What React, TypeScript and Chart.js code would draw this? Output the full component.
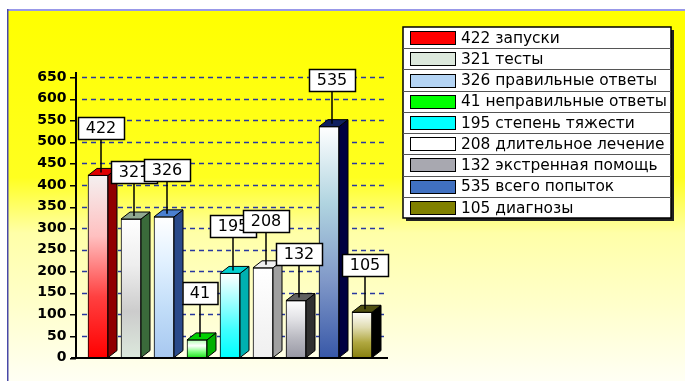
import React, { useEffect, useRef } from "react";
import { Chart, registerables } from "chart.js";

Chart.register(...registerables);

// ---- data ----
const categories = [
  "422 запуски",
  "321 тесты",
  "326 правильные ответы",
  "41 неправильные ответы",
  "195 степень тяжести",
  "208 длительное лечение",
  "132 экстренная помощь",
  "535 всего попыток",
  "105 диагнозы",
];
const values = [422, 321, 326, 41, 195, 208, 132, 535, 105];
const yMin = 0;
const yMax = 650;
const yStep = 50;

// ---- styles ----
const swatchColors = ["#ff0000", "#dce8dc", "#b4d4f4", "#00ff00", "#00ffff", "#ffffff", "#a8a8b0", "#4070c0", "#808000"];
const frontStops: string[][] = [
  ["#f4f0f0", "#ffc0c0", "#ff4040", "#ff0000"],
  ["#ffffff", "#eeeeee", "#cccccc", "#dce8dc"],
  ["#ffffff", "#e0f0ff", "#c0dcf8", "#a8c8f0"],
  ["#b0ffb0", "#ffffff", "#80ff80", "#20e020"],
  ["#ffffff", "#a0ffff", "#40ffff", "#00ffff"],
  ["#ffffff", "#fafafa", "#f4f4f4", "#f0f0f0"],
  ["#ffffff", "#e0e0e4", "#b8b8c0", "#9898a4"],
  ["#ffffff", "#b0d4e0", "#8098c8", "#3858a8"],
  ["#ffffff", "#e0dcb0", "#b0a840", "#888010"],
];
const sideColors = ["#900000", "#3a6a3a", "#2a4a8a", "#00b000", "#00b0b0", "#a0a0a0", "#303030", "#000040", "#000000"];
const topColors = ["#e00000", "#90a890", "#4a80d0", "#00d000", "#00d0d0", "#f0f0f0", "#606060", "#102060", "#505010"];

const DEPTH_X = 9;
const DEPTH_Y = 7;

const backgroundPlugin = {
  id: "bgPlugin",
  beforeDraw(chart: any) {
    const ctx = chart.ctx;
    const w = chart.width;
    const h = chart.height;
    ctx.save();
    ctx.fillStyle = "#ffffff";
    ctx.fillRect(0, 0, w, h);
    const g = ctx.createLinearGradient(0, 11, 0, h);
    g.addColorStop(0, "#ffff00");
    g.addColorStop(0.45, "#ffff20");
    g.addColorStop(0.6, "#ffffa8");
    g.addColorStop(0.8, "#ffffcc");
    g.addColorStop(1, "#fffff4");
    ctx.fillStyle = g;
    ctx.fillRect(8, 11, w - 8, h - 11);
    ctx.fillStyle = "#9898e8";
    ctx.fillRect(7, 9, w - 7, 2);
    ctx.fillStyle = "#4848a8";
    ctx.fillRect(7, 9, 1.5, h - 9);
    ctx.restore();
  },
  beforeDatasetsDraw(chart: any) {
    const ctx = chart.ctx;
    const ys = chart.scales.y;
    ctx.save();
    ctx.strokeStyle = "#2838a0";
    ctx.lineWidth = 1.5;
    ctx.setLineDash([5, 4]);
    for (let v = yStep; v <= yMax; v += yStep) {
      const py = Math.round(ys.getPixelForValue(v)) + 0.5;
      ctx.beginPath();
      ctx.moveTo(82, py);
      ctx.lineTo(388, py);
      ctx.stroke();
    }
    ctx.restore();
  },
  afterDatasetsDraw(chart: any) {
    const ctx = chart.ctx;
    const ys = chart.scales.y;
    const meta = chart.getDatasetMeta(0);
    ctx.save();
    ctx.lineJoin = "miter";
    meta.data.forEach((bar: any, i: number) => {
      const p = bar.getProps(["x", "y", "base", "width"], true);
      const l = p.x - p.width / 2;
      const r = p.x + p.width / 2;
      const t = p.y;
      const b = p.base;
      // side
      ctx.beginPath();
      ctx.moveTo(r, t);
      ctx.lineTo(r + DEPTH_X, t - DEPTH_Y);
      ctx.lineTo(r + DEPTH_X, b - DEPTH_Y);
      ctx.lineTo(r, b);
      ctx.closePath();
      ctx.fillStyle = sideColors[i];
      ctx.fill();
      ctx.strokeStyle = "#000";
      ctx.lineWidth = 1;
      ctx.stroke();
      // top
      ctx.beginPath();
      ctx.moveTo(l, t);
      ctx.lineTo(l + DEPTH_X, t - DEPTH_Y);
      ctx.lineTo(r + DEPTH_X, t - DEPTH_Y);
      ctx.lineTo(r, t);
      ctx.closePath();
      ctx.fillStyle = topColors[i];
      ctx.fill();
      ctx.stroke();
    });
    // axes
    const zeroY = Math.round(ys.getPixelForValue(0));
    const topY = ys.getPixelForValue(yMax);
    ctx.fillStyle = "#000";
    ctx.fillRect(75, topY - 5, 2, zeroY - topY + 6);
    ctx.fillRect(71, zeroY - 1, 317, 2);
    for (let v = yMin; v <= yMax; v += yStep) {
      const py = Math.round(ys.getPixelForValue(v));
      ctx.fillRect(70, py, 6, 1.5);
    }
    // data labels
    ctx.font = "16px 'DejaVu Sans'";
    ctx.textAlign = "center";
    ctx.textBaseline = "middle";
    meta.data.forEach((bar: any, i: number) => {
      const p = bar.getProps(["x", "y"], true);
      const text = String(values[i]);
      const tw = ctx.measureText(text).width;
      const bw = Math.round(tw + 15);
      const bh = 22;
      const cx = Math.round(p.x + 3);
      const bottom = Math.round(p.y - 36);
      const bx = cx - bw / 2;
      const by = bottom - bh;
      // leader line
      ctx.strokeStyle = "#000";
      ctx.lineWidth = 1.5;
      ctx.beginPath();
      ctx.moveTo(cx, bottom);
      ctx.lineTo(cx, p.y - 3);
      ctx.stroke();
      // box
      ctx.fillStyle = "#ffffff";
      ctx.fillRect(bx, by, bw, bh);
      ctx.strokeRect(bx + 0.5, by + 0.5, bw, bh);
      ctx.fillStyle = "#000";
      ctx.fillText(text, cx, by + bh / 2 + 1);
    });
    ctx.restore();
  },
  afterDraw(chart: any) {
    const ctx = chart.ctx;
    const lx = 403;
    const ly = 27;
    const lw = 268;
    const lh = 191;
    const rowH = lh / categories.length;
    ctx.save();
    ctx.fillStyle = "#202020";
    ctx.fillRect(lx + 3, ly + 3, lw, lh);
    ctx.fillStyle = "#ffffff";
    ctx.fillRect(lx, ly, lw, lh);
    ctx.strokeStyle = "#000";
    ctx.lineWidth = 1.5;
    ctx.strokeRect(lx, ly, lw, lh);
    ctx.font = "16px 'DejaVu Sans'";
    ctx.textAlign = "left";
    ctx.textBaseline = "middle";
    const longest = Math.max(...categories.map((c) => ctx.measureText(c).width));
    const sx = Math.min(1, 206 / longest);
    categories.forEach((label, i) => {
      const y0 = ly + i * rowH;
      if (i > 0) {
        ctx.strokeStyle = "#555";
        ctx.lineWidth = 1;
        ctx.beginPath();
        ctx.moveTo(lx, Math.round(y0) + 0.5);
        ctx.lineTo(lx + lw, Math.round(y0) + 0.5);
        ctx.stroke();
      }
      const sy = Math.round(y0 + (rowH - 13) / 2);
      ctx.fillStyle = swatchColors[i];
      ctx.fillRect(410, sy, 45, 13);
      ctx.strokeStyle = "#000";
      ctx.lineWidth = 1;
      ctx.strokeRect(410.5, sy + 0.5, 45, 13);
      ctx.fillStyle = "#000";
      ctx.save();
      ctx.translate(461, y0 + rowH / 2 + 1);
      ctx.scale(sx, 1);
      ctx.fillText(label, 0, 0);
      ctx.restore();
    });
    ctx.restore();
  },
};

export default function App() {
  const ref = useRef<HTMLCanvasElement | null>(null);
  useEffect(() => {
    document.body.style.margin = "0";
    const canvas = ref.current;
    if (!canvas) return;
    const chart = new Chart(canvas, {
      type: "bar",
      data: {
        labels: categories,
        datasets: [
          {
            data: values,
            backgroundColor: (c: any) => {
              const ch = c.chart;
              const ys = ch.scales && ch.scales.y;
              const i = c.dataIndex ?? 0;
              if (!ch.chartArea || !ys || c.type !== "data") return swatchColors[i];
              const top = ys.getPixelForValue(c.raw);
              const bot = ys.getPixelForValue(0);
              const g = ch.ctx.createLinearGradient(0, top, 0, bot);
              const st = frontStops[i];
              st.forEach((col, k) => g.addColorStop(k / (st.length - 1), col));
              return g;
            },
            borderColor: "#000",
            borderWidth: 1,
            barThickness: 20,
          },
        ],
      },
      options: {
        responsive: false,
        devicePixelRatio: 1,
        animation: false,
        layout: { padding: { top: 77, bottom: 23, left: 0, right: 306.5 } },
        plugins: { legend: { display: false }, tooltip: { enabled: false } },
        scales: {
          x: { display: false },
          y: {
            min: yMin,
            max: yMax,
            afterFit: (s: any) => {
              s.width = 81.5;
            },
            grid: { display: false, drawTicks: false },
            border: { display: false },
            ticks: {
              stepSize: yStep,
              padding: 15,
              color: "#000",
              font: { family: "'DejaVu Sans'", size: 14, weight: "bold" },
            },
          },
        },
      },
      plugins: [backgroundPlugin],
    });
    return () => chart.destroy();
  }, []);
  return <canvas ref={ref} width={685} height={381} style={{ display: "block", width: 685, height: 381 }} />;
}
